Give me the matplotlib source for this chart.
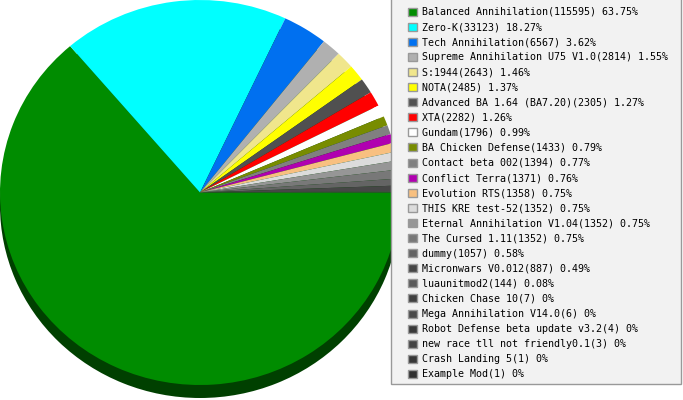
import matplotlib
matplotlib.use("Agg")
import matplotlib.pyplot as plt
from matplotlib.patches import Rectangle

# games and how many times each was played
names = ["Balanced Annihilation", "Zero-K", "Tech Annihilation",
         "Supreme Annihilation U75 V1.0", "S:1944", "NOTA",
         "Advanced BA 1.64 (BA7.20)", "XTA", "Gundam", "BA Chicken Defense",
         "Contact beta 002", "Conflict Terra", "Evolution RTS",
         "THIS KRE test-52", "Eternal Annihilation V1.04", "The Cursed 1.11",
         "dummy", "Micronwars V0.012", "luaunitmod2", "Chicken Chase 10",
         "Mega Annihilation V14.0", "Robot Defense beta update v3.2",
         "new race tll not friendly0.1", "Crash Landing 5", "Example Mod"]
counts = [115595, 33123, 6567, 2814, 2643, 2485, 2305, 2282, 1796, 1433,
          1394, 1371, 1358, 1352, 1352, 1352, 1057, 887, 144, 7, 6, 4, 3, 1, 1]
percents = ["63.75", "18.27", "3.62", "1.55", "1.46", "1.37", "1.27", "1.26",
            "0.99", "0.79", "0.77", "0.76", "0.75", "0.75", "0.75", "0.75",
            "0.58", "0.49", "0.08", "0", "0", "0", "0", "0", "0"]
colors = ["#008c00", "#00ffff", "#0070f0", "#b0b0b0", "#f0e68c", "#ffff00",
          "#505050", "#ff0000", "#ffffff", "#788c00", "#808080", "#b000b0",
          "#f8c080", "#dcdcdc", "#969696", "#787878", "#646464", "#464646",
          "#5a5a5a", "#404040", "#4a4a4a", "#3a3a3a", "#444444", "#383838",
          "#303030"]

labels = [n + "(" + str(c) + ") " + p + "%" for n, c, p in zip(names, counts, percents)]

W, H = 683, 400
fig = plt.figure(figsize=(W / 100, H / 100), dpi=100)
ax = fig.add_axes([0, 0, 400 / W, 1])

# side of the "3d" pie, just a dark copy shifted down
depth = 13 / 192.5
ax.pie([1], colors=["#004000"], center=(0, -depth), radius=1,
       wedgeprops=dict(linewidth=0))
wedges, _ = ax.pie(counts, colors=colors, startangle=0, counterclock=False,
                   radius=1, wedgeprops=dict(linewidth=0))

ax.set_aspect("auto")
ax.set_xlim(-1, 1)
ax.set_ylim(-1 - 15 / 192.5, 1.0)
ax.axis("off")

# legend box drawn by hand so it sits exactly where it should
box = Rectangle((391.5 / W, 1 - 383.5 / H), 290 / W, 390 / H,
                transform=fig.transFigure, facecolor="#f2f2f2",
                edgecolor="#999999", linewidth=1, zorder=0)
fig.patches.append(box)

leg = fig.legend(wedges, labels, loc="upper left",
                 bbox_to_anchor=(408 / W, 1 - 7 / H), bbox_transform=fig.transFigure,
                 prop=dict(family="DejaVu Sans Mono", size=7.2),
                 frameon=False,
                 handlelength=0.85, handleheight=0.85, handletextpad=0.5,
                 labelspacing=0.51, borderpad=0, borderaxespad=0)
for h in leg.legend_handles:
    h.set_edgecolor("#999999")
    h.set_linewidth(1)

fig.savefig("out.png", dpi=100)
